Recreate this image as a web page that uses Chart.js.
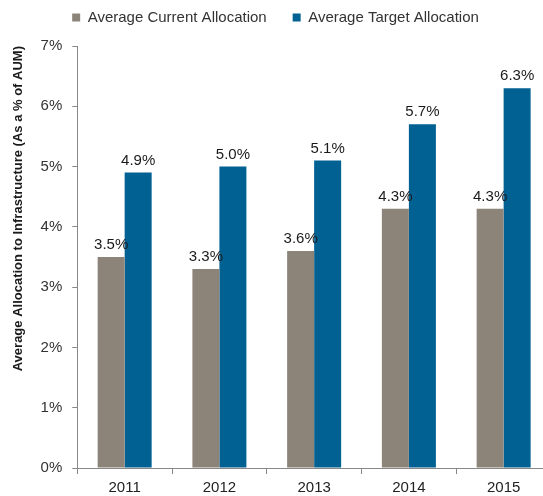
<!DOCTYPE html>
<html lang="en">
<head>
  <meta charset="UTF-8" />
  <title>Average Allocation to Infrastructure</title>
  <script src="https://cdn.jsdelivr.net/npm/chart.js"></script>
  <style>
    html, body {
      margin: 0;
      padding: 0;
      background: #fff;
      overflow: hidden;
    }
    #chart-container {
      width: 554px;
      height: 496px;
    }
  </style>
</head>
<body>
  <div id="chart-container">
    <canvas id="allocChart"></canvas>
  </div>

  <script>
    // Данные с картинки
    const years = ["2011", "2012", "2013", "2014", "2015"];
    const currentAlloc = [3.5, 3.3, 3.6, 4.3, 4.3];
    const targetAlloc = [4.9, 5.0, 5.1, 5.7, 6.3];
    const yTicks = ["0%", "1%", "2%", "3%", "4%", "5%", "6%", "7%"];

    const FONT = "Arial, 'Liberation Sans', sans-serif";

    // Подписи значений над столбцами
    const valueLabels = {
      id: "valueLabels",
      afterDatasetsDraw(chart) {
        const ctx = chart.ctx;
        ctx.save();
        ctx.font = "15px " + FONT;
        ctx.fillStyle = "#1a1a1a";
        ctx.textAlign = "center";
        ctx.textBaseline = "alphabetic";
        chart.data.datasets.forEach((ds, i) => {
          chart.getDatasetMeta(i).data.forEach((bar, j) => {
            ctx.fillText(ds.data[j].toFixed(1) + "%", bar.x, bar.y - 8);
          });
        });
        ctx.restore();
      }
    };

    // Отступ под легендой
    const legendGap = {
      id: "legendGap",
      beforeInit(chart) {
        const fit = chart.legend.fit;
        chart.legend.fit = function () {
          fit.call(this);
          this.height += 11;
        };
      }
    };

    const ctx = document.getElementById("allocChart").getContext("2d");
    new Chart(ctx, {
      type: "bar",
      data: {
        labels: years,
        datasets: [
          {
            label: "Average Current Allocation",
            data: currentAlloc,
            backgroundColor: "#8c8479",
            barPercentage: 1,
            categoryPercentage: 0.57
          },
          {
            label: "Average Target Allocation",
            data: targetAlloc,
            backgroundColor: "#006192",
            barPercentage: 1,
            categoryPercentage: 0.57
          }
        ]
      },
      options: {
        responsive: true,
        maintainAspectRatio: false,
        animation: false,
        layout: { padding: { top: -16, right: 3, bottom: -6, left: 0 } },
        scales: {
          x: {
            grid: { drawOnChartArea: false, drawTicks: true, tickLength: 6, color: "#888" },
            border: { color: "#888" },
            ticks: {
              color: "#222",
              font: { family: FONT, size: 15 },
              padding: 5
            }
          },
          y: {
            min: 0,
            max: 7,
            grid: { drawOnChartArea: false, drawTicks: true, tickLength: 5, color: "#888" },
            border: { color: "#888" },
            ticks: {
              stepSize: 1,
              color: "#333",
              padding: 10,
              font: { family: FONT, size: 15 },
              callback: (value) => yTicks[value]
            },
            title: {
              display: true,
              align: "end",
              text: "Average Allocation to Infrastructure (As a % of AUM)",
              color: "#1a1a1a",
              font: { family: FONT, size: 13, weight: "bold" },
              padding: { top: 11, bottom: 4 }
            }
          }
        },
        plugins: {
          legend: {
            display: true,
            position: "top",
            labels: {
              boxWidth: 8,
              boxHeight: 8,
              padding: 26,
              color: "#333",
              font: { family: FONT, size: 15 }
            }
          },
          tooltip: { enabled: false }
        }
      },
      plugins: [valueLabels, legendGap]
    });
  </script>
</body>
</html>
